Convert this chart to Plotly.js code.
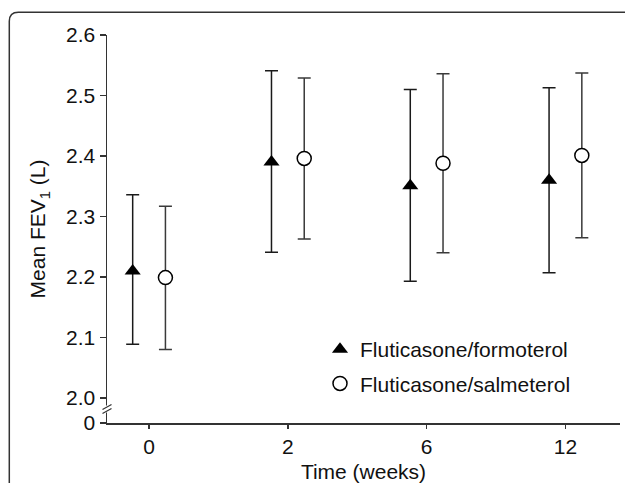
<!DOCTYPE html>
<html>
<head>
<meta charset="utf-8">
<script src="https://cdn.plot.ly/plotly-3.0.1.min.js"></script>
<style>
html,body{margin:0;padding:0;background:#fff;}
#chart{width:625px;height:483px;}
</style>
</head>
<body>
<div id="chart"></div>
<script>
// ---- data ----
var timeLabels = ['0', '2', '6', '12'];           // weeks
var seriesNames = ['Fluticasone/formoterol', 'Fluticasone/salmeterol'];
var formoterolMean  = [2.210, 2.390, 2.351, 2.360];
var formoterolUpper = [2.336, 2.541, 2.510, 2.513];
var formoterolLower = [2.089, 2.241, 2.193, 2.207];
var salmeterolMean  = [2.199, 2.396, 2.388, 2.401];
var salmeterolUpper = [2.317, 2.529, 2.536, 2.537];
var salmeterolLower = [2.080, 2.263, 2.240, 2.265];
var yTickVals = [2.0, 2.1, 2.2, 2.3, 2.4, 2.5, 2.6];
var yTickText = ['2.0', '2.1', '2.2', '2.3', '2.4', '2.5', '2.6'];
var brokenBaseLabel = '0';

// ---- layout constants ----
var W = 625, H = 483;
var M = {l: 107, r: 5, t: 35, b: 60};
var plotW = W - M.l - M.r, plotH = H - M.t - M.b;
var yMaxV = 2.6;
var pxPerUnit = 605;                       // pixels per litre on the y axis
var yMinV = yMaxV - plotH / pxPerUnit;     // bottom of axis (drawn as "0")
var xIdx = timeLabels.map(function (_, i) { return i; });
var groupOffset = 0.118;
var xRange = [-0.303, 3.393];

function px2paperX(p) { return (p - M.l) / plotW; }
function px2paperY(p) { return 1 - (p - M.t) / plotH; }
function diff(a, b) { return a.map(function (v, i) { return v - b[i]; }); }

var fontFam = '"Liberation Sans", Arial, Helvetica, sans-serif';

var traceFF = {
  type: 'scatter', mode: 'markers', name: seriesNames[0], legendgroup: 'a',
  x: xIdx.map(function (v) { return v - groupOffset; }),
  y: formoterolMean,
  marker: {symbol: 'triangle-up', size: 14, color: '#000', line: {width: 0}},
  error_y: {type: 'data', symmetric: false,
    array: diff(formoterolUpper, formoterolMean),
    arrayminus: diff(formoterolMean, formoterolLower),
    color: '#1a1a1a', thickness: 1.5, width: 6.5},
  cliponaxis: false
};
var traceFS = {
  type: 'scatter', mode: 'markers', name: seriesNames[1], legendgroup: 'b',
  x: xIdx.map(function (v) { return v + groupOffset; }),
  y: salmeterolMean,
  marker: {symbol: 'circle', size: 14, color: '#fff', line: {width: 1.5, color: '#000'}},
  error_y: {type: 'data', symmetric: false,
    array: diff(salmeterolUpper, salmeterolMean),
    arrayminus: diff(salmeterolMean, salmeterolLower),
    color: '#3a3a3a', thickness: 1.5, width: 6.5},
  cliponaxis: false
};

// frame: rounded rectangle whose right and bottom edges fall outside the picture
var fx0 = px2paperX(9.3), fy0 = px2paperY(12.3);
var rx = 9 / plotW, ry = 9 / plotH;
var fxR = px2paperX(640), fyB = px2paperY(500);
var framePath = 'M' + fx0 + ',' + fyB + ' L' + fx0 + ',' + (fy0 - ry) +
  ' Q' + fx0 + ',' + fy0 + ' ' + (fx0 + rx) + ',' + fy0 + ' L' + fxR + ',' + fy0;

var shapes = [
  {type: 'path', xref: 'paper', yref: 'paper', path: framePath,
   line: {color: '#333', width: 1.5}},
  // axis break
  {type: 'rect', xref: 'paper', yref: 'paper', x0: px2paperX(103), x1: px2paperX(111),
   y0: px2paperY(412.5), y1: px2paperY(405.5), fillcolor: '#fff', line: {width: 0}},
  {type: 'line', xref: 'paper', yref: 'paper', x0: px2paperX(102.5), x1: px2paperX(111.5),
   y0: px2paperY(409.5), y1: px2paperY(404.5), line: {color: '#333', width: 1.2}},
  {type: 'line', xref: 'paper', yref: 'paper', x0: px2paperX(102.5), x1: px2paperX(111.5),
   y0: px2paperY(413.5), y1: px2paperY(408.5), line: {color: '#333', width: 1.2}}
];

var layout = {
  width: W, height: H,
  margin: M,
  paper_bgcolor: '#fff', plot_bgcolor: '#fff',
  font: {family: fontFam, size: 21, color: '#111'},
  showlegend: true,
  legend: {x: px2paperX(320), xanchor: 'left', y: px2paperY(329), yanchor: 'top',
    bgcolor: 'rgba(0,0,0,0)', borderwidth: 0, tracegroupgap: 4,
    font: {family: fontFam, size: 21, color: '#111'}},
  xaxis: {
    range: xRange, tickmode: 'array', tickvals: xIdx, ticktext: timeLabels,
    showgrid: false, zeroline: false, showline: true, linecolor: '#333', linewidth: 1.5,
    ticks: 'outside', ticklen: 4, tickwidth: 1.3, tickcolor: '#333',
    tickfont: {family: fontFam, size: 21, color: '#111'},
    title: {text: 'Time (weeks)', standoff: 7, font: {family: fontFam, size: 21, color: '#111'}},
    automargin: false, fixedrange: true
  },
  yaxis: {
    range: [yMinV, yMaxV], tickmode: 'array',
    tickvals: [yMinV].concat(yTickVals), ticktext: [brokenBaseLabel].concat(yTickText),
    showgrid: false, zeroline: false, showline: true, linecolor: '#333', linewidth: 1.5,
    ticks: 'outside', ticklen: 6, tickwidth: 1.3, tickcolor: '#333',
    tickfont: {family: fontFam, size: 21, color: '#111'},
    title: {text: 'Mean FEV<sub>1</sub> (L)', standoff: 14, font: {family: fontFam, size: 21, color: '#111'}},
    automargin: false, fixedrange: true
  },
  shapes: shapes
};

Plotly.newPlot('chart', [traceFF, traceFS], layout, {displayModeBar: false, staticPlot: true});
</script>
</body>
</html>
